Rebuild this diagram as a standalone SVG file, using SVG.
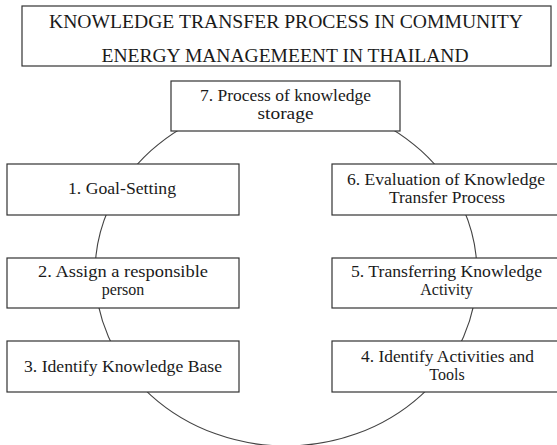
<svg xmlns="http://www.w3.org/2000/svg" width="557" height="445" viewBox="0 0 557 445">
<style>
.box{fill:#fff;stroke:#333;stroke-width:1.2}
.conn{fill:none;stroke:#444;stroke-width:1.1}
.t{font-size:19px}
.n{font-size:16px}
</style>
<rect width="557" height="445" fill="#fff"/>
<g id="connectors">
<ellipse class="conn" cx="286" cy="273" rx="191" ry="173"/>
</g>
<g font-family="Liberation Serif, DejaVu Serif, serif" fill="#1a1a1a" text-anchor="middle">
<g id="title">
<rect class="box" x="22" y="6" width="529" height="60"/>
<text class="t" x="286" y="27.5" textLength="474" lengthAdjust="spacingAndGlyphs">KNOWLEDGE TRANSFER PROCESS IN COMMUNITY</text>
<text class="t" x="285" y="62" textLength="367" lengthAdjust="spacingAndGlyphs">ENERGY MANAGEMEENT IN THAILAND</text>
</g>
<g id="n7">
<rect class="box" x="171" y="81" width="229" height="50"/>
<text class="n" x="285.5" y="101" textLength="171" lengthAdjust="spacingAndGlyphs">7. Process of knowledge</text>
<text class="n" x="285.5" y="118.5" textLength="56" lengthAdjust="spacingAndGlyphs">storage</text>
</g>
<g id="n1">
<rect class="box" x="7" y="164" width="232" height="51"/>
<text class="n" x="122" y="194" textLength="108" lengthAdjust="spacingAndGlyphs">1. Goal-Setting</text>
</g>
<g id="n2">
<rect class="box" x="7" y="258" width="232" height="50"/>
<text class="n" x="123" y="277" textLength="170" lengthAdjust="spacingAndGlyphs">2. Assign a responsible</text>
<text class="n" x="123" y="295">person</text>
</g>
<g id="n3">
<rect class="box" x="7" y="341" width="232" height="51"/>
<text class="n" x="123" y="371.5" textLength="198" lengthAdjust="spacingAndGlyphs">3. Identify Knowledge Base</text>
</g>
<g id="n6">
<rect class="box" x="332" y="164" width="232" height="51"/>
<text class="n" x="446" y="185" textLength="198" lengthAdjust="spacingAndGlyphs">6. Evaluation of Knowledge</text>
<text class="n" x="447" y="203" textLength="116" lengthAdjust="spacingAndGlyphs">Transfer Process</text>
</g>
<g id="n5">
<rect class="box" x="332" y="258" width="232" height="50"/>
<text class="n" x="446.5" y="277" textLength="191" lengthAdjust="spacingAndGlyphs">5. Transferring Knowledge</text>
<text class="n" x="446.5" y="295">Activity</text>
</g>
<g id="n4">
<rect class="box" x="332" y="341" width="232" height="51"/>
<text class="n" x="447.5" y="362" textLength="173" lengthAdjust="spacingAndGlyphs">4. Identify Activities and</text>
<text class="n" x="447" y="380">Tools</text>
</g>
</g>
</svg>
